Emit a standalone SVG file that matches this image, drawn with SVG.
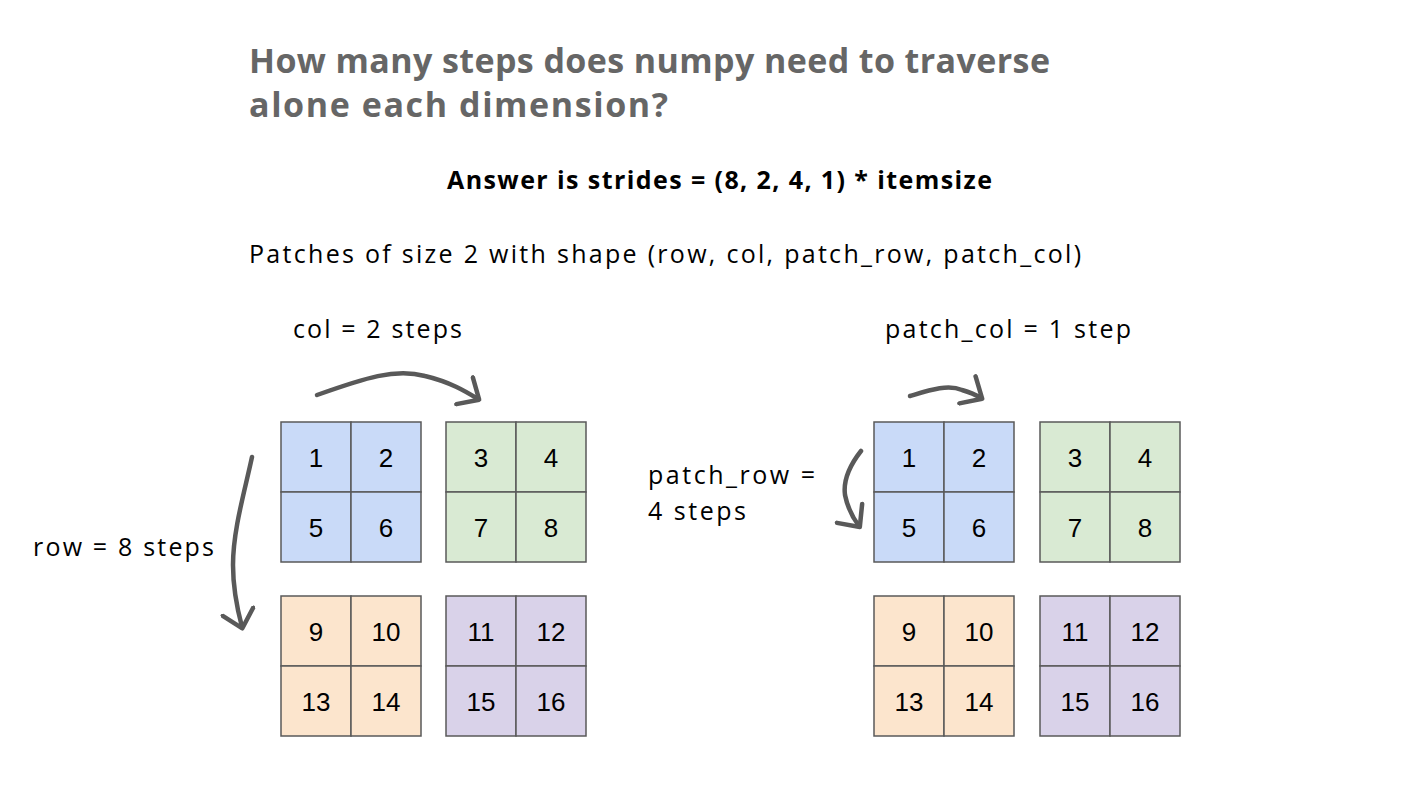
<svg xmlns="http://www.w3.org/2000/svg" width="1426" height="796" viewBox="0 0 1426 796">
<style>
.t{font-family:"Open Sans",Lato,sans-serif}
.title{font-size:34px;font-weight:bold;fill:#666666}
.lbl{font-size:25px;fill:#000}
.num{font-family:"Liberation Sans",Arial,sans-serif;font-size:26px;fill:#000;text-anchor:middle}
.cell{stroke:#595959;stroke-width:1.5}
.blue{fill:#c9daf8}.green{fill:#d9ead3}.orange{fill:#fce5cd}.purple{fill:#d9d2e9}
.arr{fill:none;stroke:#595959;stroke-width:4.5;stroke-linecap:round}
</style>
<defs>
<marker id="ah" markerWidth="8" markerHeight="8" refX="4" refY="4" orient="auto" markerUnits="strokeWidth">
<path d="M0.5,0.5 L4.3,4 L0.5,7.5" fill="none" stroke="#595959" stroke-width="1" stroke-linecap="round" stroke-linejoin="round"/>
</marker>
</defs>
<rect width="1426" height="796" fill="#fff"/>
<text class="t title" x="249" y="73" textLength="801" lengthAdjust="spacing">How many steps does numpy need to traverse</text>
<text class="t title" x="249" y="117" textLength="419" lengthAdjust="spacing">alone each dimension?</text>
<text class="t" x="447" y="189" font-size="25" font-weight="bold" textLength="545" lengthAdjust="spacing">Answer is strides = (8, 2, 4, 1) * itemsize</text>
<text class="t lbl" x="249" y="263" textLength="832" lengthAdjust="spacing">Patches of size 2 with shape (row, col, patch_row, patch_col)</text>
<text class="t lbl" x="293" y="338" textLength="169" lengthAdjust="spacing">col = 2 steps</text>
<text class="t lbl" x="885" y="338" textLength="246" lengthAdjust="spacing">patch_col = 1 step</text>
<text class="t lbl" x="33" y="556" textLength="181" lengthAdjust="spacing">row = 8 steps</text>
<text class="t lbl" x="648" y="484" textLength="167" lengthAdjust="spacing">patch_row =</text>
<text class="t lbl" x="648" y="520" textLength="98" lengthAdjust="spacing">4 steps</text>

<g id="left-blue">
<rect class="cell blue" x="281" y="422" width="70" height="70"/><rect class="cell blue" x="351" y="422" width="70" height="70"/>
<rect class="cell blue" x="281" y="492" width="70" height="70"/><rect class="cell blue" x="351" y="492" width="70" height="70"/>
<text class="num" x="316" y="467">1</text><text class="num" x="386" y="467">2</text>
<text class="num" x="316" y="537">5</text><text class="num" x="386" y="537">6</text>
</g>
<g id="left-green">
<rect class="cell green" x="446" y="422" width="70" height="70"/><rect class="cell green" x="516" y="422" width="70" height="70"/>
<rect class="cell green" x="446" y="492" width="70" height="70"/><rect class="cell green" x="516" y="492" width="70" height="70"/>
<text class="num" x="481" y="467">3</text><text class="num" x="551" y="467">4</text>
<text class="num" x="481" y="537">7</text><text class="num" x="551" y="537">8</text>
</g>
<g id="left-orange">
<rect class="cell orange" x="281" y="596" width="70" height="70"/><rect class="cell orange" x="351" y="596" width="70" height="70"/>
<rect class="cell orange" x="281" y="666" width="70" height="70"/><rect class="cell orange" x="351" y="666" width="70" height="70"/>
<text class="num" x="316" y="641">9</text><text class="num" x="386" y="641">10</text>
<text class="num" x="316" y="711">13</text><text class="num" x="386" y="711">14</text>
</g>
<g id="left-purple">
<rect class="cell purple" x="446" y="596" width="70" height="70"/><rect class="cell purple" x="516" y="596" width="70" height="70"/>
<rect class="cell purple" x="446" y="666" width="70" height="70"/><rect class="cell purple" x="516" y="666" width="70" height="70"/>
<text class="num" x="481" y="641">11</text><text class="num" x="551" y="641">12</text>
<text class="num" x="481" y="711">15</text><text class="num" x="551" y="711">16</text>
</g>

<g id="right-blue">
<rect class="cell blue" x="874" y="422" width="70" height="70"/><rect class="cell blue" x="944" y="422" width="70" height="70"/>
<rect class="cell blue" x="874" y="492" width="70" height="70"/><rect class="cell blue" x="944" y="492" width="70" height="70"/>
<text class="num" x="909" y="467">1</text><text class="num" x="979" y="467">2</text>
<text class="num" x="909" y="537">5</text><text class="num" x="979" y="537">6</text>
</g>
<g id="right-green">
<rect class="cell green" x="1040" y="422" width="70" height="70"/><rect class="cell green" x="1110" y="422" width="70" height="70"/>
<rect class="cell green" x="1040" y="492" width="70" height="70"/><rect class="cell green" x="1110" y="492" width="70" height="70"/>
<text class="num" x="1075" y="467">3</text><text class="num" x="1145" y="467">4</text>
<text class="num" x="1075" y="537">7</text><text class="num" x="1145" y="537">8</text>
</g>
<g id="right-orange">
<rect class="cell orange" x="874" y="596" width="70" height="70"/><rect class="cell orange" x="944" y="596" width="70" height="70"/>
<rect class="cell orange" x="874" y="666" width="70" height="70"/><rect class="cell orange" x="944" y="666" width="70" height="70"/>
<text class="num" x="909" y="641">9</text><text class="num" x="979" y="641">10</text>
<text class="num" x="909" y="711">13</text><text class="num" x="979" y="711">14</text>
</g>
<g id="right-purple">
<rect class="cell purple" x="1040" y="596" width="70" height="70"/><rect class="cell purple" x="1110" y="596" width="70" height="70"/>
<rect class="cell purple" x="1040" y="666" width="70" height="70"/><rect class="cell purple" x="1110" y="666" width="70" height="70"/>
<text class="num" x="1075" y="641">11</text><text class="num" x="1145" y="641">12</text>
<text class="num" x="1075" y="711">15</text><text class="num" x="1145" y="711">16</text>
</g>

<g id="connectors">
<path class="arr" d="M317,395 C365,378 395,368 425,376 C450,382 465,391 478,399" marker-end="url(#ah)"/>
<path class="arr" d="M252,457 C245,490 233,530 233,565 C233,590 238,612 242,627" marker-end="url(#ah)"/>
<path class="arr" d="M910,396 C930,390 948,384 962,390 C972,393 976,395 981,398" marker-end="url(#ah)"/>
<path class="arr" d="M861,451 C850,465 843,480 845,495 C848,510 853,518 859,526" marker-end="url(#ah)"/>
</g>
</svg>
